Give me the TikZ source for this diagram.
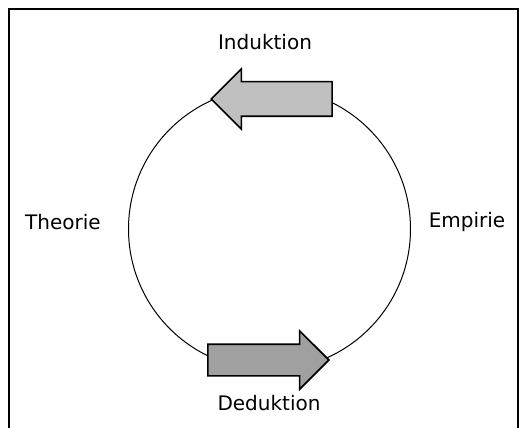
\documentclass[tikz,border=0pt]{standalone}
\usepackage{fontspec}
\setmainfont{DejaVu Sans}
\usetikzlibrary{shapes.arrows}

\tikzset{
  lbl/.style={font=\fontsize{20}{24}\selectfont, inner sep=0pt},
  bigarrow/.style={single arrow, draw=black, line width=1.6pt,
    minimum height=121pt, text height=16.5pt, text depth=16.5pt,
    single arrow head extend=13pt, single arrow head indent=0pt,
    inner sep=0pt, anchor=tip}
}

\begin{document}
\begin{tikzpicture}[x=1pt,y=-1pt]
\useasboundingbox (0,0) rectangle (528,428);

% frame
\draw[line width=2pt] (9,430) -- (9,9) -- (518,9) -- (518,430);

% cycle
\node[circle, draw, line width=1pt, minimum size=282pt, inner sep=0pt] (cycle) at (269.5,229) {};

% arrows
\node[bigarrow, fill={rgb,255:red,192;green,192;blue,192}, shape border rotate=180] (ind) at (210,99) {};
\node[bigarrow, fill={rgb,255:red,160;green,160;blue,160}, text height=15pt, text depth=15pt, single arrow head extend=13.5pt] (ded) at (330,360) {};

% labels
\node[lbl] (induktion) at (265,42) {Induktion};
\node[lbl] (deduktion) at (269,403) {Deduktion};
\node[lbl] (theorie) at (63,222) {Theorie};
\node[lbl] (empirie) at (467,222) {Empirie};

\end{tikzpicture}
\end{document}
